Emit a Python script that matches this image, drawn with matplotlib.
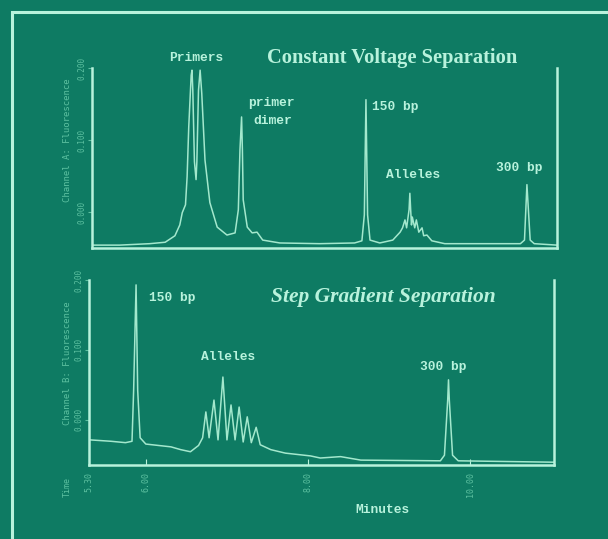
import matplotlib
matplotlib.use("Agg")
import matplotlib.pyplot as plt
from matplotlib.patches import Rectangle

# colours of the scanned slide
bg = "#0e7b63"
ink = "#b8f2dc"
trace_col = "#a3e8cd"
dim = "#5cc0a0"

# --- Channel A, constant voltage (minutes, fluorescence) ---
time_a = [5.30, 5.64, 6.01, 6.20, 6.32, 6.38, 6.41, 6.45, 6.47, 6.49, 6.52, 6.53,
          6.54, 6.56, 6.58, 6.59, 6.61, 6.63, 6.65, 6.69, 6.75, 6.84, 6.96, 7.06,
          7.10, 7.12, 7.14, 7.15, 7.16, 7.21, 7.27, 7.33, 7.40, 7.61, 8.10, 8.53,
          8.62, 8.65, 8.67, 8.69, 8.72, 8.84, 9.00, 9.09, 9.12, 9.15, 9.17, 9.20,
          9.21, 9.22, 9.23, 9.24, 9.27, 9.29, 9.32, 9.36, 9.38, 9.42, 9.48, 9.64,
          10.57, 10.62, 10.65, 10.69, 10.74, 11.02]
signal_a = [-0.046, -0.046, -0.044, -0.042, -0.033, -0.018, -0.001, 0.010, 0.049, 0.118, 0.190, 0.197,
            0.169, 0.070, 0.045, 0.070, 0.169, 0.197, 0.165, 0.072, 0.013, -0.021, -0.032, -0.029,
            0.003, 0.086, 0.132, 0.086, 0.017, -0.021, -0.029, -0.028, -0.039, -0.043, -0.044, -0.043,
            -0.040, -0.004, 0.156, -0.004, -0.039, -0.043, -0.039, -0.028, -0.022, -0.011, -0.022, 0.003,
            0.026, 0.003, -0.018, -0.007, -0.022, -0.011, -0.028, -0.022, -0.033, -0.032, -0.040, -0.044,
            -0.044, -0.039, 0.038, -0.039, -0.044, -0.046]

# --- Channel B, step gradient ---
time_b = [5.31, 5.57, 5.75, 5.83, 5.85, 5.88, 5.90, 5.93, 6.00, 6.31, 6.43, 6.55,
          6.65, 6.70, 6.74, 6.78, 6.84, 6.89, 6.95, 7.00, 7.05, 7.10, 7.15, 7.20,
          7.25, 7.30, 7.36, 7.41, 7.54, 7.72, 8.03, 8.15, 8.40, 8.65, 9.63, 9.68,
          9.72, 9.73, 9.74, 9.78, 9.85, 11.03]
signal_b = [-0.029, -0.031, -0.033, -0.031, 0.042, 0.193, 0.042, -0.026, -0.035, -0.039, -0.043, -0.046,
            -0.037, -0.026, 0.011, -0.026, 0.028, -0.029, 0.061, -0.029, 0.021, -0.029, 0.018, -0.032,
            0.004, -0.033, -0.011, -0.036, -0.043, -0.048, -0.052, -0.055, -0.053, -0.058, -0.059, -0.051,
            0.028, 0.057, 0.028, -0.051, -0.059, -0.061]

y_ticks = [0.0, 0.1, 0.2]
y_ticklabels = ["0.000", "0.100", "0.200"]
x_ticks_b = [5.30, 6.00, 8.00, 10.00]
x_ticklabels_b = ["5.30", "6.00", "8.00", "10.00"]

mono = dict(family="Liberation Mono", weight="bold", color=ink, fontsize=9.3)
serif = dict(family="Liberation Serif", weight="bold", color=ink)

fig = plt.figure(figsize=(6.08, 5.39), dpi=100)
fig.patch.set_facecolor(bg)

# slide frame
fig.patches.append(Rectangle((12 / 608, -0.1), 1.2, 1 - 12 / 539 + 0.1,
                             transform=fig.transFigure, fill=False,
                             edgecolor=ink, lw=2.2))

ax1 = fig.add_axes([92 / 608, 1 - 248 / 539, 465 / 608, 180 / 539])
ax2 = fig.add_axes([89 / 608, 1 - 465 / 539, 465 / 608, 185 / 539])

for ax in (ax1, ax2):
    ax.set_facecolor(bg)
    ax.spines["top"].set_visible(False)
    for s in ("left", "right", "bottom"):
        ax.spines[s].set_color(ink)
        ax.spines[s].set_linewidth(1.8)
    ax.set_yticks(y_ticks)
    ax.set_yticklabels(y_ticklabels, rotation=90, va="center",
                       fontsize=5.5, color=dim, family="DejaVu Sans Mono")
    ax.tick_params(axis="y", direction="out", length=3, color=dim, pad=1)
    ax.tick_params(axis="x", direction="in", length=4, color=ink)

ax1.plot(time_a, signal_a, color=trace_col, lw=1.1)
ax1.set_xlim(5.30, 11.02)
ax1.set_ylim(-0.05, 0.2)
ax1.set_xticks([])

ax2.plot(time_b, signal_b, color=trace_col, lw=1.1)
ax2.set_xlim(5.30, 11.03)
ax2.set_ylim(-0.065, 0.2)
ax2.set_xticks(x_ticks_b)
ax2.set_xticklabels(x_ticklabels_b, rotation=90, fontsize=6, color=dim,
                    family="DejaVu Sans Mono")
ax2.tick_params(axis="x", pad=5)

# top panel labels
ax1.text(6.58, 0.214, "Primers", ha="center", va="center", clip_on=False, **mono)
ax1.text(7.22, 0.151, "primer", ha="left", va="center", **mono)
ax1.text(7.29, 0.126, "dimer", ha="left", va="center", **mono)
ax1.text(8.74, 0.146, "150 bp", ha="left", va="center", **mono)
ax1.text(8.92, 0.051, "Alleles", ha="left", va="center", **mono)
ax1.text(10.27, 0.061, "300 bp", ha="left", va="center", **mono)
ax1.text(8.99, 0.214, "Constant Voltage Separation", ha="center", va="center",
         clip_on=False, fontsize=14.8, **serif)

# bottom panel labels
ax2.text(6.04, 0.174, "150 bp", ha="left", va="center", **mono)
ax2.text(6.68, 0.090, "Alleles", ha="left", va="center", **mono)
ax2.text(9.38, 0.075, "300 bp", ha="left", va="center", **mono)
ax2.text(8.93, 0.176, "Step Gradient Separation", ha="center", va="center",
         style="italic", fontsize=15.5, **serif)

fig.text(68 / 608, 1 - 140 / 539, "Channel A: Fluorescence", rotation=90,
         ha="center", va="center", fontsize=6.5, color=dim, family="DejaVu Sans Mono")
fig.text(68 / 608, 1 - 363 / 539, "Channel B: Fluorescence", rotation=90,
         ha="center", va="center", fontsize=6.5, color=dim, family="DejaVu Sans Mono")
fig.text(67 / 608, 1 - 487 / 539, "Time", rotation=90, ha="center", va="center",
         fontsize=6, color=dim, family="DejaVu Sans Mono")
fig.text(382 / 608, 1 - 510 / 539, "Minutes", ha="center", va="center", **mono)

fig.savefig("out.png", dpi=100, facecolor=bg)
